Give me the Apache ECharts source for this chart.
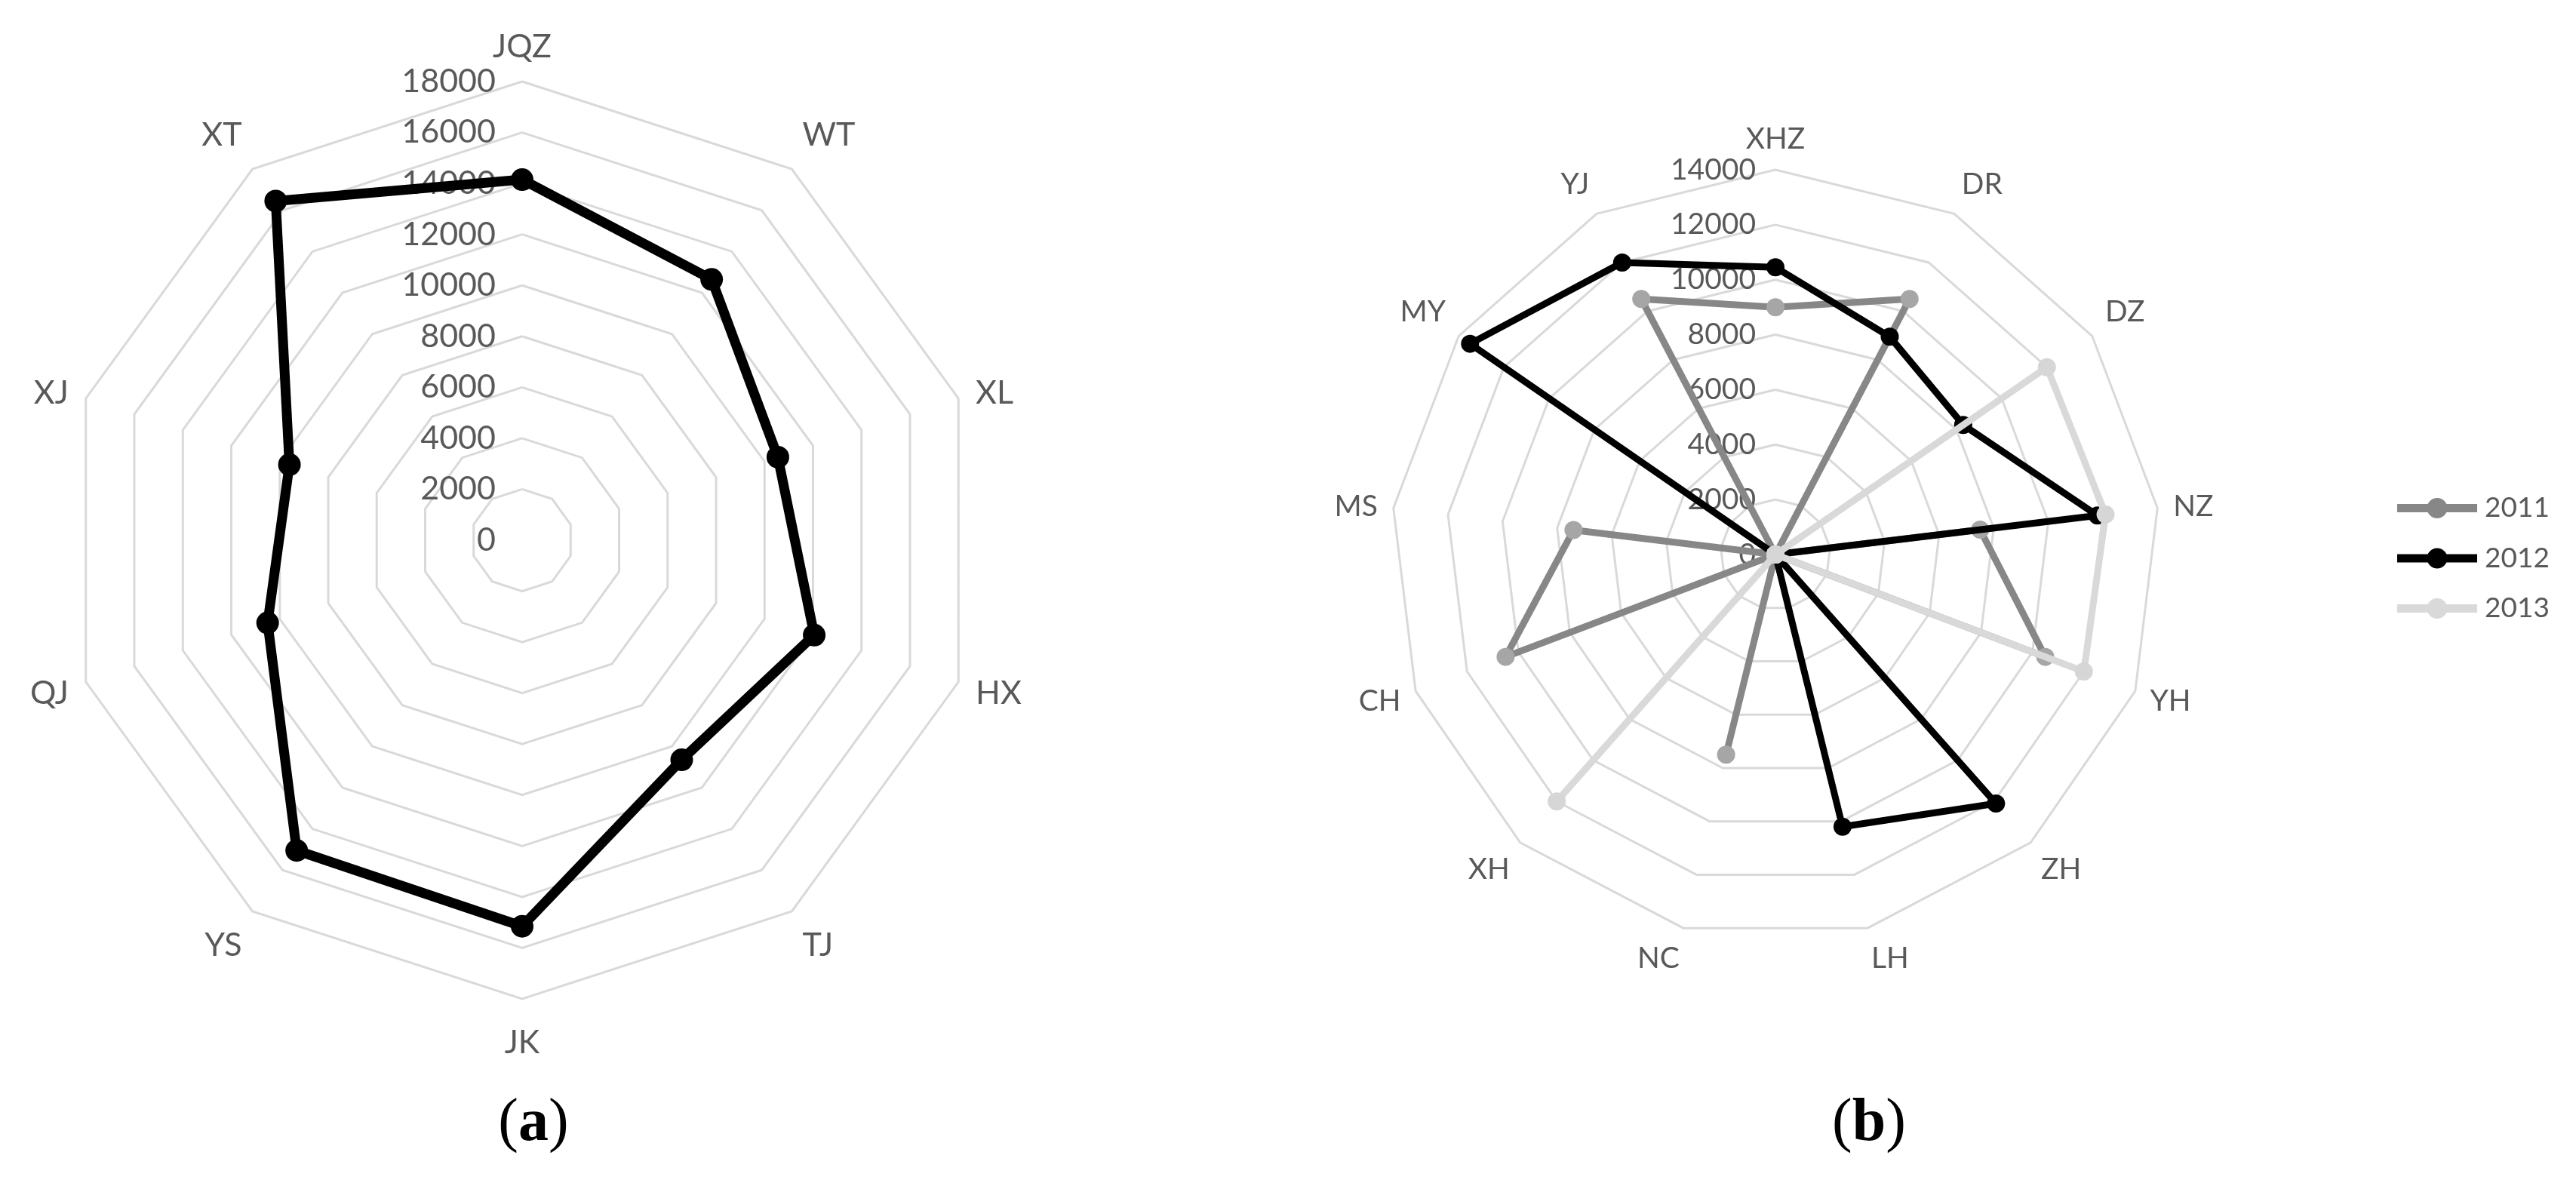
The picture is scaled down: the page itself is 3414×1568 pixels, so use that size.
<!DOCTYPE html>
<html><head><meta charset="utf-8">
<script src="https://cdn.jsdelivr.net/npm/echarts@6/dist/echarts.min.js"></script>
<style>html,body{margin:0;padding:0;background:#fff;}#c{width:3414px;height:1568px;}</style>
</head><body><div id="c"></div>
<script>
// ---- data (a) ----
const catsA = ['JQZ','WT','XL','HX','TJ','JK','YS','QJ','XJ','XT'];
const valsA = [14150,12650,10550,12050,10650,15150,15050,10500,9600,16450];
const maxA = 18000, stepA = 2000;
// ---- data (b) ----
const catsB = ['XHZ','DR','DZ','NZ','YH','ZH','LH','NC','XH','CH','MS','MY','YJ'];
const years = ['2011','2012','2013'];
const vals2011 = [9000,10500,0,7500,10500,0,0,7500,0,10500,7400,0,10500];
const vals2012 = [10450,8950,8300,11800,0,12100,10200,0,0,0,0,13500,12000];
const vals2013 = [0,0,12000,12100,12000,0,0,0,12000,0,0,0,0];
const maxB = 14000, stepB = 2000;
const captions = ['a','b'];

// ECharts radar places indicators counter-clockwise; reorder so they read clockwise
const cw = arr => [arr[0]].concat(arr.slice(1).reverse());

const FONT = 'Lato, "Open Sans", sans-serif';
const TXT = '#595959';
const colB = {'2011': {line:'#878787', mark:'#a6a6a6'}, '2012': {line:'#000', mark:'#000'}, '2013': {line:'#d9d9d9', mark:'#d6d6d6'}};
const valsB = {'2011': vals2011, '2012': vals2012, '2013': vals2013};

const CA = [692, 716], RA = 608;
const CB = [2353, 735], RB = 510;

// name labels: push diagonal names outward vertically (Excel-like placement)
function radarCfg(cats, max, step, center, radius, fs, gap, shift){
  const n = cats.length;
  const keyOf = {};
  cats.forEach((c, i) => {
    const elev = Math.sin(Math.PI/2 - i*2*Math.PI/n);
    const isVert = Math.abs(elev) > 0.999;
    keyOf[c] = isVert ? (elev < 0 ? 'bot' : 'n') : (elev > 0.5 ? 'up' : (elev < -0.5 ? 'dn' : (elev < -0.2 ? 'dn2' : 'n')));
  });
  const base = {fontSize: fs, color: TXT, fontFamily: FONT};
  return {
    center: center, radius: radius, startAngle: 90, shape: 'polygon',
    splitNumber: max/step,
    indicator: cw(cats).map(c => ({name: c, min: 0, max: max})),
    axisName: {color: TXT, fontSize: fs, fontFamily: FONT,
      formatter: name => '{' + keyOf[name] + '|' + name + '}',
      rich: {
        n: Object.assign({}, base),
        up: Object.assign({padding: [0,0,2*shift,0]}, base),
        dn: Object.assign({padding: [2*shift,0,0,0]}, base),
        dn2: Object.assign({padding: [shift*0.6,0,0,0]}, base),
        bot: Object.assign({padding: [shift*0.5,0,0,0]}, base)
      }},
    nameGap: gap,
    axisLine: {show: false}, axisTick: {show: false}, axisLabel: {show: false},
    splitLine: {lineStyle: {color: '#d9d9d9', width: 3}},
    splitArea: {show: false}
  };
}

const legendIcon = 'path://M0,8 L106,8 L106,19 L0,19 Z M39.5,13.5 A13.5,13.5 0 1 1 66.5,13.5 A13.5,13.5 0 1 1 39.5,13.5 Z';
const plain = v => String(v);

const option = {
  backgroundColor: '#fff',
  animation: false,
  radar: [
    radarCfg(catsA, maxA, stepA, CA, RA, 43, 24, 26),
    radarCfg(catsB, maxB, stepB, CB, RB, 39, 21, 20)
  ],
  grid: [
    {left: CA[0], top: CA[1]-RA, width: 10, height: RA},
    {left: CB[0], top: CB[1]-RB, width: 10, height: RB}
  ],
  xAxis: [
    {type: 'value', gridIndex: 0, show: false},
    {type: 'value', gridIndex: 1, show: false}
  ],
  yAxis: [
    {type: 'value', gridIndex: 0, min: 0, max: maxA, interval: stepA, z: 0,
     axisLine: {show: false}, axisTick: {show: false}, splitLine: {show: false},
     axisLabel: {margin: 35, fontSize: 43, color: TXT, fontFamily: FONT, formatter: plain}},
    {type: 'value', gridIndex: 1, min: 0, max: maxB, interval: stepB, z: 0,
     axisLine: {show: false}, axisTick: {show: false}, splitLine: {show: false},
     axisLabel: {margin: 26, fontSize: 39, color: TXT, fontFamily: FONT, formatter: plain}}
  ],
  legend: {
    data: years.map(y => ({name: y, icon: legendIcon, itemStyle: {color: colB[y].line}})),
    orient: 'vertical', left: 3172, top: 650,
    itemWidth: 106, itemHeight: 27, itemGap: 29.5,
    textStyle: {fontSize: 37, color: TXT, fontFamily: FONT, padding: [0,0,0,5]}
  },
  series: [
    {type: 'radar', radarIndex: 0, name: 'A', symbol: 'circle', symbolSize: 30,
     lineStyle: {color: '#000', width: 13}, itemStyle: {color: '#000'},
     data: [{value: cw(valsA)}]}
  ].concat(years.map((y, k) => ({
     type: 'radar', radarIndex: 1, name: y, symbol: 'circle', symbolSize: 24, z: 2 + k,
     lineStyle: {color: colB[y].line, width: 9}, itemStyle: {color: colB[y].mark},
     data: [{value: cw(valsB[y]), name: y}]
  }))),
  graphic: [
    {type: 'text', x: 707, y: 1490, style: {text: '{p|(}{b|' + captions[0] + '}{p|)}', align: 'center', verticalAlign: 'middle',
      rich: {p: {fontFamily: '"Liberation Serif", serif', fontSize: 80, fill: '#000'}, b: {fontFamily: '"Liberation Serif", serif', fontSize: 80, fontWeight: 'bold', fill: '#000'}}}},
    {type: 'text', x: 2477, y: 1490, style: {text: '{p|(}{b|' + captions[1] + '}{p|)}', align: 'center', verticalAlign: 'middle',
      rich: {p: {fontFamily: '"Liberation Serif", serif', fontSize: 80, fill: '#000'}, b: {fontFamily: '"Liberation Serif", serif', fontSize: 80, fontWeight: 'bold', fill: '#000'}}}}
  ]
};
const chart = echarts.init(document.getElementById('c'), null, {renderer: 'canvas'});
chart.setOption(option);
</script></body></html>
